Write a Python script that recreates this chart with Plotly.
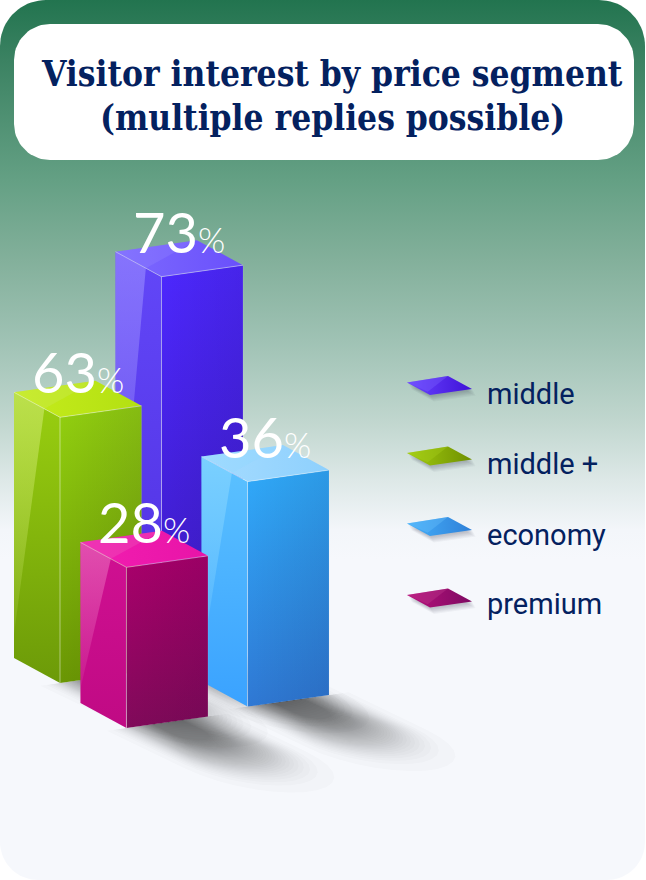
import numpy as np
import plotly.graph_objects as go

# Chart content
TITLE_LINES = ["Visitor interest by price segment", "(multiple replies possible)"]
SEGMENTS = ["middle", "middle +", "economy", "premium"]
SHARES = [73, 63, 36, 28]

# Footprint of each column on the floor: across and towards the viewer
FLOOR_SLOTS = {"middle": (1.245, 0.0), "middle +": (0.0, 0.0),
               "economy": (1.404, 1.589), "premium": (-0.16, 1.728)}
PAINT_ORDER = ["middle", "middle +", "economy", "premium"]

# Oblique projection of the floor, in page pixels
FLOOR_ORIGIN = np.array([60.0, 683.0])
ACROSS = np.array([81.5, -11.5])
TOWARDS = np.array([46.0, 25.0])
SHADOW_CAST = np.array([112.0, 54.0])

# The value scale of the columns is compressed between stops
SCALE_VALUES = [0, 28, 36, 63, 73]
SCALE_PIXELS = [0, 160.7, 225, 265.7, 392]

PALETTES = {
    "middle":   dict(top=("#7d6aff", "#6a50fb"), left=("#6247f8", "#4f2fe0"), shine="#9c8fff",
                     right=("#4d28ff", "#3c1ac0"), chip=("#6a44ff", "#3f12d8"), chip_shine="#7f68ff"),
    "middle +": dict(top=("#c6ec1c", "#b3e012"), left=("#9ad010", "#6c9a08"), shine="#d0ea70",
                     right=("#93d010", "#6a9604"), chip=("#a2cc10", "#6f9000"), chip_shine="#a9d21e"),
    "economy":  dict(top=("#a6dcff", "#8ed0fd"), left=("#5cc2ff", "#3aa2ff"), shine="#8cd8ff",
                     right=("#30aafa", "#2f78d4"), chip=("#45b0fa", "#2f80d8"), chip_shine="#6cc2fc"),
    "premium":  dict(top=("#f21eb0", "#e814a8"), left=("#d01092", "#c00a84"), shine="#ec74c0",
                     right=("#aa006c", "#800a5a"), chip=("#b8107c", "#7e0a62"), chip_shine="#c0408e"),
}
TEXT_NAVY = "#04215f"

# Card backdrop: page height and colour at that height
CARD_RAMP = [(0, "#22744f"), (60, "#3b8262"), (180, "#64a084"), (260, "#83b09b"),
             (340, "#9fc2b4"), (420, "#c0d6ce"), (480, "#dde8e7"), (530, "#f3f6fa"),
             (560, "#f6f8fc"), (880, "#f6f8fc")]

fig = go.Figure()


def tint(hex_colour, alpha):
    r, g, b = (int(hex_colour[i:i + 2], 16) for i in (1, 3, 5))
    return f"rgba({r},{g},{b},{alpha})"


def polygon(points, colors=None, solid=None, direction="vertical", stops=None):
    """Add one closed filled region, flat or with a gradient."""
    pts = np.asarray(points, dtype=float)
    xs = list(pts[:, 0]) + [pts[0, 0]]
    ys = list(pts[:, 1]) + [pts[0, 1]]
    trace = dict(x=xs, y=ys, mode="lines", line=dict(width=0), fill="toself",
                 hoverinfo="skip", showlegend=False)
    if colors is not None:
        stops = [[i / (len(colors) - 1), c] for i, c in enumerate(colors)]
    if stops is not None:
        trace["fillgradient"] = dict(type=direction, colorscale=stops)
    else:
        trace["fillcolor"] = solid
    fig.add_trace(go.Scatter(**trace))


def edge(points, color="rgba(255,255,255,0.5)", width=1):
    pts = np.asarray(points, dtype=float)
    fig.add_trace(go.Scatter(x=pts[:, 0], y=pts[:, 1], mode="lines",
                             line=dict(color=color, width=width),
                             hoverinfo="skip", showlegend=False))


def rounded_box(x0, y0, x1, y1, rt, rb):
    """Outline of a box with round corners, radius rt on top and rb at the bottom."""
    outline = []
    corners = [(x1 - rt, y0 + rt, rt, -90), (x1 - rb, y1 - rb, rb, 0),
               (x0 + rb, y1 - rb, rb, 90), (x0 + rt, y0 + rt, rt, 180)]
    for cx, cy, r, a0 in corners:
        for a in np.radians(np.linspace(a0, a0 + 90, 20)):
            outline.append((cx + r * np.cos(a), cy + r * np.sin(a)))
    return outline


def corners_of(name):
    col, row = FLOOR_SLOTS[name]
    front = FLOOR_ORIGIN + col * ACROSS + row * TOWARDS
    return front - TOWARDS, front, front + ACROSS


def cast_shadow(name):
    """Soft floor shadow, built up from nested tongues with a rounded far end."""
    left, front, right = corners_of(name)
    layers = 40
    for k in range(layers):
        p = (k / (layers - 1)) ** 0.55
        side = -0.24 + 0.56 * p
        reach = 1.28 - 0.95 * p
        a = front + (right - front) * side
        b = right - (right - front) * side
        tip = (a + b) / 2 + SHADOW_CAST * reach * 0.55
        half = (b - a) / 2
        bulge = SHADOW_CAST * reach * 0.45
        outline = [a, b]
        for theta in np.linspace(0, np.pi, 16):
            outline.append(tip + half * np.cos(theta) + bulge * np.sin(theta))
        polygon(outline, solid="rgba(30,30,28,0.018)")


def column(name, share):
    pal = PALETTES[name]
    height = float(np.interp(share, SCALE_VALUES, SCALE_PIXELS))
    lift = np.array([0.0, -height])
    left, front, right = corners_of(name)
    tl, tf, tr = left + lift, front + lift, right + lift
    tb = tl + (tr - tf)

    # Side facing left, with a diagonal sheen that dies out downwards
    polygon([tl, tf, front, left], colors=list(pal["left"])[::-1])
    shine_top = tl + (tf - tl) * 0.66
    shine_low = left + lift * 0.09
    polygon([tl, shine_top, shine_low],
            colors=[tint(pal["shine"], 0.12), tint(pal["shine"], 0.62)])

    # Side facing right: a vertical ramp darkened towards the far edge
    polygon([tf, tr, right, front], colors=list(pal["right"])[::-1])
    polygon([tf, tr, right, front],
            colors=["rgba(0,0,0,0)", "rgba(10,0,40,0.1)"], direction="horizontal")

    # Lid
    polygon([tl, tb, tr, tf], colors=list(pal["top"]), direction="horizontal")
    polygon([tl, tb, tl + (tf - tl) * 0.66], solid=tint(pal["shine"], 0.25))

    # Bright seams
    edge([tl, tf, tr], color="rgba(255,255,255,0.42)")
    edge([tf, front], color="rgba(255,255,255,0.45)")
    edge([tr, right], color="rgba(255,255,255,0.1)")

    return tl, tf, tr, tb


# Page card and title plate
card_stops = sorted([1 - y / 880, c] for y, c in CARD_RAMP)
polygon(rounded_box(0, 0, 645, 880, 46, 38), stops=card_stops)
polygon(rounded_box(14, 24, 634, 160, 36, 36), solid="#ffffff")

for seg in PAINT_ORDER:
    cast_shadow(seg)

value_of = dict(zip(SEGMENTS, SHARES))
annotations = []
for seg in PAINT_ORDER:
    tl, tf, tr, tb = column(seg, value_of[seg])
    centre_x = (tl[0] + tr[0]) / 2
    annotations.append(dict(
        x=centre_x, y=tf[1] - 10, xref="x", yref="y", showarrow=False,
        xanchor="center", yanchor="bottom",
        text=f"{value_of[seg]}<span style='font-size:35px;font-weight:300'>%</span>",
        font=dict(family="Lato", size=56, color="#ffffff", weight=400)))

# Key: a flat lozenge and a name per segment
CHIP_ROWS = [0, 70.5, 141, 212.5]
LABEL_ROWS = [394, 464, 535, 604]
for seg, dy, label_y in zip(SEGMENTS, CHIP_ROWS, LABEL_ROWS):
    pal = PALETTES[seg]
    chip = np.array([[407, 382.5], [448, 376], [472, 389], [430, 395]]) + [0, dy]
    for k in range(7):
        polygon(chip + [1 + k * 0.5, 1 + k * 0.9], solid="rgba(30,30,50,0.04)")
    polygon(chip, colors=list(pal["chip"]), direction="horizontal")
    polygon([chip[0], chip[1], chip[0] + (chip[3] - chip[0]) * 0.9 + [0, -2]],
            solid=tint(pal["chip_shine"], 0.35))
    annotations.append(dict(
        x=484.5, y=label_y, xref="x", yref="y", showarrow=False,
        xanchor="left", yanchor="middle", text=seg,
        font=dict(family="Roboto", size=29, color=TEXT_NAVY)))

for line, y in zip(TITLE_LINES, [73, 117]):
    annotations.append(dict(
        x=332, y=y, xref="x", yref="y", showarrow=False,
        xanchor="center", yanchor="middle", text=line,
        font=dict(family="DejaVu Serif Condensed", size=35, color=TEXT_NAVY, weight=700)))

fig.update_layout(
    width=646, height=880, autosize=False,
    margin=dict(l=0, r=0, t=0, b=0),
    paper_bgcolor="#ffffff", plot_bgcolor="rgba(0,0,0,0)",
    xaxis=dict(range=[0, 646], visible=False, fixedrange=True),
    yaxis=dict(range=[880, 0], visible=False, fixedrange=True),
    annotations=annotations, showlegend=False,
)
fig.write_html("out.html", config={"displayModeBar": False})
